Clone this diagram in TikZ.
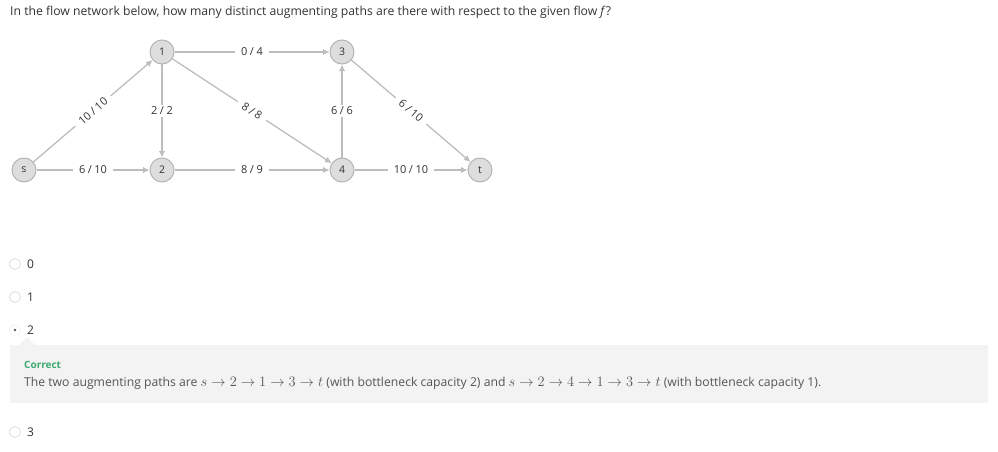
\documentclass[tikz,border=0pt]{standalone}
\usepackage{fontspec}
\setmainfont{Open Sans}
\usetikzlibrary{arrows.meta}
\definecolor{edgec}{HTML}{BDBDBD}
\definecolor{nodefill}{HTML}{DDDDDD}
\definecolor{nodeline}{HTML}{B5B5B5}
\definecolor{txt}{HTML}{333333}
\definecolor{expl}{HTML}{555555}
\definecolor{boxc}{HTML}{F3F3F3}
\definecolor{okgreen}{HTML}{3BAA6E}
\definecolor{radioc}{HTML}{DDDDDD}
\newcommand{\bigmath}[1]{{\fontsize{14.5}{16}\selectfont$#1$}}
\newcommand{\fr}[2]{#1\hspace{2.5pt}/\hspace{2.5pt}#2}
\tikzset{
  vert/.style={circle,draw=nodeline,fill=nodefill,line width=1pt,minimum size=24pt,inner sep=0pt,font=\fontsize{10.5}{12}\selectfont,text=txt},
  flow/.style={draw=edgec,line width=1.3pt,-{Latex[length=6.5pt,width=6.5pt]}},
  elab/.style={fill=white,inner xsep=6pt,inner ysep=2pt,font=\fontsize{11}{12}\selectfont,text=txt},
  radio/.style={circle,draw=radioc,line width=0.8pt,minimum size=11pt,inner sep=0pt},
  opt/.style={anchor=west,inner sep=0pt,font=\fontsize{12}{14}\selectfont,text=txt},
}
\begin{document}
\begin{tikzpicture}[x=1pt,y=-1pt]
\useasboundingbox (0,0) rectangle (998,452);
\node[anchor=west,inner sep=0pt,font=\fontsize{12.2}{14}\selectfont,text=txt] (title) at (10,12) {In the flow network below, how many distinct augmenting paths are there with respect to the given flow \textit{f}?};
% graph
\node[vert] (s) at (24,170) {s};
\node[vert] (n1) at (162,52) {1};
\node[vert] (n2) at (162,170) {2};
\node[vert] (n3) at (342,52) {3};
\node[vert] (n4) at (342,170) {4};
\node[vert] (t) at (480,170) {t};
\draw[flow] (s) -- node[elab,sloped] {\fr{10}{10}} (n1);
\draw[flow] (s) -- node[elab] {\fr{6}{10}} (n2);
\draw[flow] (n1) -- node[elab] {\fr{2}{2}} (n2);
\draw[flow] (n1) -- node[elab] {\fr{0}{4}} (n3);
\draw[flow] (n1) -- node[elab,sloped] {\fr{8}{8}} (n4);
\draw[flow] (n2) -- node[elab] {\fr{8}{9}} (n4);
\draw[flow] (n4) -- node[elab] {\fr{6}{6}} (n3);
\draw[flow] (n3) -- node[elab,sloped] {\fr{6}{10}} (t);
\draw[flow] (n4) -- node[elab] {\fr{10}{10}} (t);
% options
\node[radio] (r0) at (15,264) {};
\node[opt] (o0) at (27,264) {0};
\node[radio] (r1) at (15,297) {};
\node[opt] (o1) at (27,297) {1};
\node[radio,draw=boxc] (r2) at (15,330) {};
\fill[expl] (r2.center) circle (1.3pt);
\node[opt] (o2) at (27,330) {2};
% feedback box
\fill[boxc] (10,345) rectangle (988,403);
\fill[boxc] (19,345) -- (27,337) -- (35,345) -- cycle;
\node[anchor=west,inner sep=0pt,font=\fontsize{10}{12}\selectfont\bfseries,text=okgreen] (corr) at (24,365) {Correct};
\node[anchor=west,inner sep=0pt,font=\fontsize{12.2}{14}\selectfont,text=expl] (exp) at (24,383) {The two augmenting paths are \bigmath{s\rightarrow 2\rightarrow 1\rightarrow 3\rightarrow t} (with bottleneck capacity 2) and \bigmath{s\rightarrow 2\rightarrow 4\rightarrow 1\rightarrow 3\rightarrow t} (with bottleneck capacity 1).};
\node[radio] (r3) at (15,432) {};
\node[opt] (o3) at (27,432) {3};
\end{tikzpicture}
\end{document}
